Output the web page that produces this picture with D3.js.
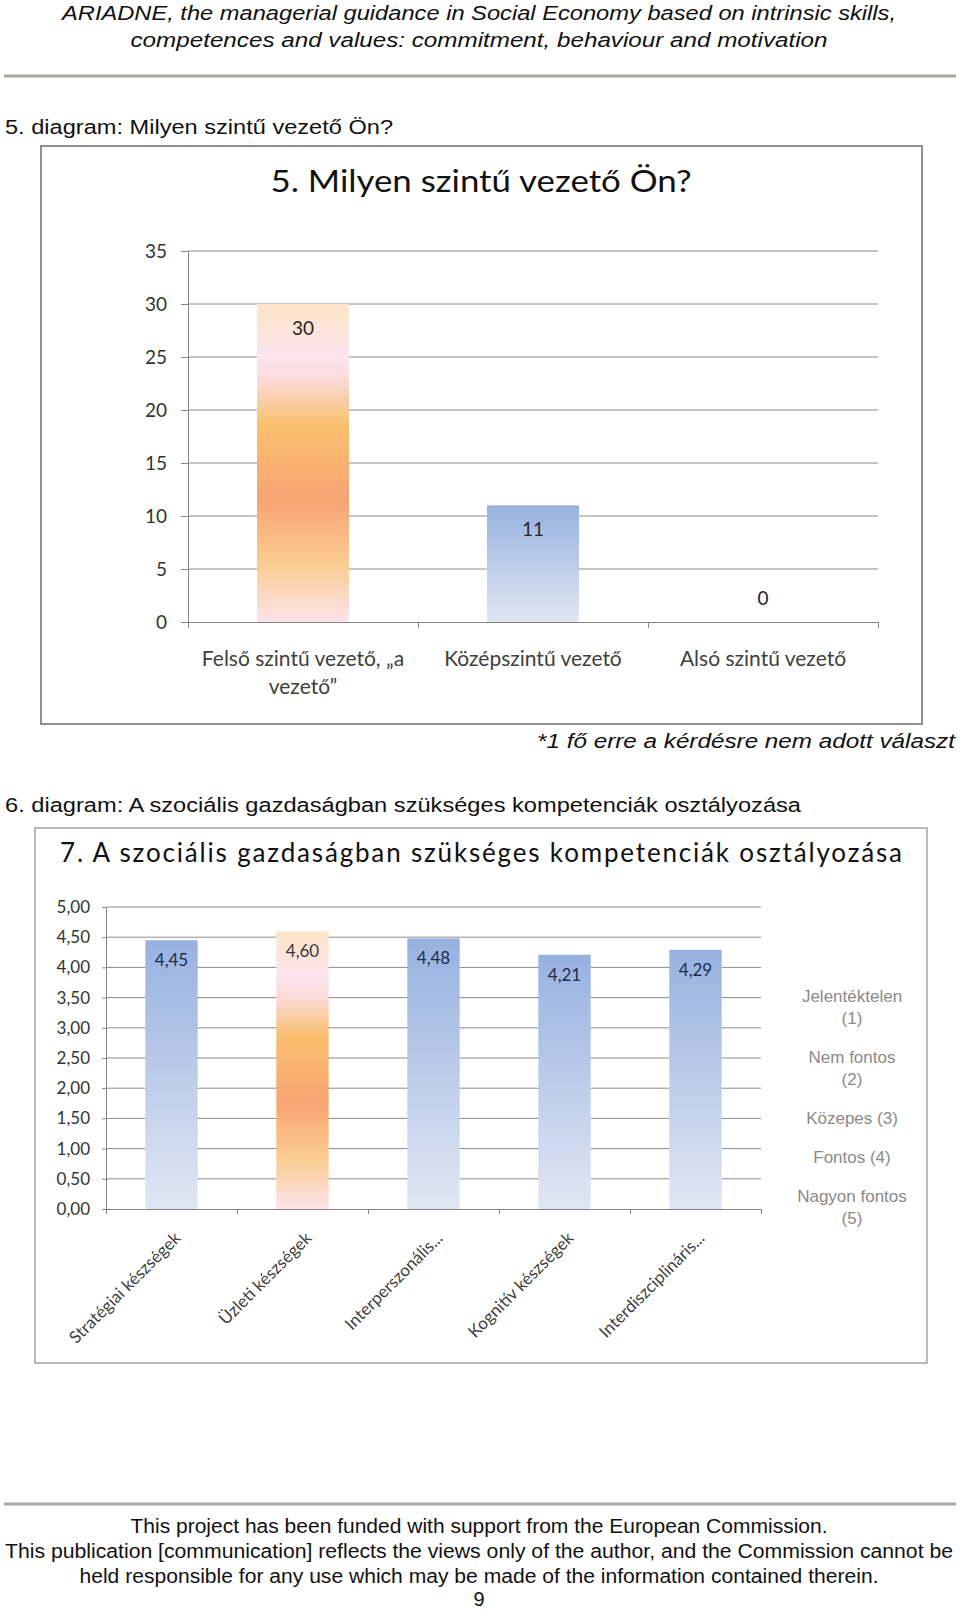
<!DOCTYPE html>
<meta charset="utf-8">
<script src="https://d3js.org/d3.v7.min.js"></script>
<style>
body { margin: 0; background: #fff; }
</style>
<div id="page"></div>
<script>

// diagram 5 data
var levels = ["Felső szintű vezető, „a vezető”", "Középszintű vezető", "Alsó szintű vezető"];
var levelCounts = [30, 11, 0];
var levelTicks = [0, 5, 10, 15, 20, 25, 30, 35];

// diagram 6 (chart 7) data
var skills = ["Stratégiai készségek", "Üzleti készségek", "Interperszonális...", "Kognitív készségek", "Interdiszciplináris..."];
var skillScores = [4.45, 4.60, 4.48, 4.21, 4.29];
var scoreTicks = [0, 0.5, 1, 1.5, 2, 2.5, 3, 3.5, 4, 4.5, 5];
var ratingLegend = ["Jelentéktelen (1)", "Nem fontos (2)", "Közepes (3)", "Fontos (4)", "Nagyon fontos (5)"];

// which bar gets the warm gradient
var warmLevel = levels[0];
var warmSkill = skills[1];

var svg = d3.select("#page")
  .append("svg")
    .attr("width", 960)
    .attr("height", 1612);

// gradients (Excel 2007 look)
var defs = svg.append("defs");
var blue = defs.append("linearGradient").attr("id", "blueGrad")
  .attr("x1", 0).attr("y1", 0).attr("x2", 0).attr("y2", 1);
blue.append("stop").attr("offset", "0%").attr("stop-color", "#97b1e0");
blue.append("stop").attr("offset", "100%").attr("stop-color", "#e0e7f3");

var warm = defs.append("linearGradient").attr("id", "warmGrad")
  .attr("x1", 0).attr("y1", 0).attr("x2", 0).attr("y2", 1);
[["0%", "#fde5c8"], ["17%", "#fce3ee"], ["23%", "#fbdcdc"], ["38%", "#f9bf6e"],
 ["62%", "#f8a474"], ["82%", "#fbcd92"], ["100%", "#fbe3ea"]].forEach(function(s) {
  warm.append("stop").attr("offset", s[0]).attr("stop-color", s[1]);
});

function barFill(name, warmName) {
  return name === warmName ? "url(#warmGrad)" : "url(#blueGrad)";
}

function docText(str, x, y, anchor, italic, len) {
  return svg.append("text")
    .attr("x", x).attr("y", y)
    .attr("text-anchor", anchor)
    .attr("textLength", len)
    .attr("lengthAdjust", "spacingAndGlyphs")
    .style("font-family", "'Liberation Sans', Arial, sans-serif")
    .style("font-size", "20px")
    .style("font-style", italic ? "italic" : "normal")
    .style("fill", "#111")
    .text(str);
}

// wrap text into tspans
function wrap(text, width, lineHeight) {
  text.each(function() {
    var t = d3.select(this),
        words = t.text().split(/\s+/),
        line = [],
        x = t.attr("x"),
        tspan = t.text(null).append("tspan").attr("x", x);
    words.forEach(function(w) {
      line.push(w);
      tspan.text(line.join(" "));
      if (tspan.node().getComputedTextLength() > width && line.length > 1) {
        line.pop();
        tspan.text(line.join(" "));
        line = [w];
        tspan = t.append("tspan").attr("x", x).attr("dy", lineHeight).text(w);
      }
    });
  });
}

// page header
docText("ARIADNE, the managerial guidance in Social Economy based on intrinsic skills,", 479, 20, "middle", true, 834);
docText("competences and values: commitment, behaviour and motivation", 479, 47, "middle", true, 697);
svg.append("line")
  .attr("x1", 4).attr("x2", 956).attr("y1", 76).attr("y2", 76)
  .style("stroke", "#a7a7a2").style("stroke-width", 3);

docText("5. diagram: Milyen szintű vezető Ön?", 5, 134, "start", false, 388);

// ---------------- chart 5 ----------------
svg.append("rect")
  .attr("x", 41).attr("y", 146).attr("width", 881).attr("height", 578)
  .style("fill", "#fff").style("stroke", "#8f8f8f").style("stroke-width", 2);

svg.append("text")
  .attr("x", 481).attr("y", 192)
  .attr("text-anchor", "middle")
  .attr("textLength", 421).attr("lengthAdjust", "spacingAndGlyphs")
  .style("font-family", "Lato, sans-serif")
  .style("font-size", "31px")
  .style("fill", "#111")
  .text("5. Milyen szintű vezető Ön?");

var y1 = d3.scaleLinear().domain([0, 35]).range([622, 251]);
var x1 = d3.scaleBand().domain(levels).range([188, 878]).paddingInner(0.6).paddingOuter(0.3);
var xi1 = d3.scaleLinear().domain([0, levels.length]).range([188, 878]);

// gridlines
svg.append("g")
  .selectAll("line")
  .data(levelTicks.filter(function(d) { return d > 0; }))
  .enter().append("line")
    .attr("x1", 188).attr("x2", 878)
    .attr("y1", function(d) { return y1(d); })
    .attr("y2", function(d) { return y1(d); })
    .style("stroke", "#8c8c8c").style("stroke-width", 1);

// bars
svg.append("g")
  .selectAll("rect")
  .data(levels)
  .enter().append("rect")
    .attr("x", function(d) { return x1(d); })
    .attr("y", function(d, i) { return y1(levelCounts[i]); })
    .attr("width", x1.bandwidth())
    .attr("height", function(d, i) { return y1(0) - y1(levelCounts[i]); })
    .attr("fill", function(d) { return barFill(d, warmLevel); });

// axes
var yAxis1 = svg.append("g")
  .attr("transform", "translate(188,0)")
  .call(d3.axisLeft(y1).tickValues(levelTicks).tickSize(7).tickSizeOuter(0).tickPadding(14));
var xAxis1 = svg.append("g")
  .attr("transform", "translate(0,622)")
  .call(d3.axisBottom(xi1).tickValues(d3.range(levels.length + 1)).tickSize(6).tickSizeOuter(0).tickFormat(""));
[yAxis1, xAxis1].forEach(function(a) {
  a.selectAll("path, line").style("stroke", "#868686");
  a.selectAll("text")
    .style("font-family", "Lato, sans-serif")
    .style("font-size", "19px")
    .style("fill", "#333");
});

// data labels
svg.append("g")
  .selectAll("text")
  .data(levels)
  .enter().append("text")
    .attr("x", function(d) { return x1(d) + x1.bandwidth() / 2; })
    .attr("y", function(d, i) {
      var v = levelCounts[i];
      return v > 0 ? y1(v) + 24 : y1(v) - 24;
    })
    .attr("dy", "0.35em")
    .attr("text-anchor", "middle")
    .style("font-family", "Lato, sans-serif")
    .style("font-size", "19px")
    .style("fill", "#262626")
    .text(function(d, i) { return levelCounts[i]; });

// category labels
svg.append("g")
  .selectAll("text")
  .data(levels)
  .enter().append("text")
    .attr("x", function(d) { return x1(d) + x1.bandwidth() / 2; })
    .attr("y", 666)
    .attr("text-anchor", "middle")
    .style("font-family", "Lato, sans-serif")
    .style("font-size", "21px")
    .style("fill", "#404040")
    .text(function(d) { return d; })
    .each(function() { wrap(d3.select(this), 222, 28); });

docText("*1 fő erre a kérdésre nem adott választ", 955, 748, "end", true, 418);

docText("6. diagram: A szociális gazdaságban szükséges kompetenciák osztályozása", 5, 812, "start", false, 796);

// ---------------- chart 7 ----------------
svg.append("rect")
  .attr("x", 35).attr("y", 828).attr("width", 892).attr("height", 535)
  .style("fill", "#fff").style("stroke", "#a3a3a3").style("stroke-width", 1.5);

svg.append("text")
  .attr("x", 60).attr("y", 862)
  .attr("textLength", 842).attr("lengthAdjust", "spacing")
  .style("font-family", "Lato, sans-serif")
  .style("font-size", "26px")
  .style("fill", "#111")
  .text("7. A szociális gazdaságban szükséges kompetenciák osztályozása");

var y2 = d3.scaleLinear().domain([0, 5]).range([1209, 907]);
var x2 = d3.scaleBand().domain(skills).range([106, 761]).paddingInner(0.6).paddingOuter(0.3);
var xi2 = d3.scaleLinear().domain([0, skills.length]).range([106, 761]);
var fmt = function(v) { return d3.format(".2f")(v).replace(".", ","); };

svg.append("g")
  .selectAll("line")
  .data(scoreTicks.filter(function(d) { return d > 0; }))
  .enter().append("line")
    .attr("x1", 106).attr("x2", 761)
    .attr("y1", function(d) { return y2(d); })
    .attr("y2", function(d) { return y2(d); })
    .style("stroke", "#8c8c8c").style("stroke-width", 1);

svg.append("g")
  .selectAll("rect")
  .data(skills)
  .enter().append("rect")
    .attr("x", function(d) { return x2(d); })
    .attr("y", function(d, i) { return y2(skillScores[i]); })
    .attr("width", x2.bandwidth())
    .attr("height", function(d, i) { return y2(0) - y2(skillScores[i]); })
    .attr("fill", function(d) { return barFill(d, warmSkill); });

var yAxis2 = svg.append("g")
  .attr("transform", "translate(106,0)")
  .call(d3.axisLeft(y2).tickValues(scoreTicks).tickFormat(fmt).tickSize(4).tickSizeOuter(0).tickPadding(12));
var xAxis2 = svg.append("g")
  .attr("transform", "translate(0,1209)")
  .call(d3.axisBottom(xi2).tickValues(d3.range(skills.length + 1)).tickSize(5).tickSizeOuter(0).tickFormat(""));
[yAxis2, xAxis2].forEach(function(a) {
  a.selectAll("path, line").style("stroke", "#868686");
  a.selectAll("text")
    .style("font-family", "Lato, sans-serif")
    .style("font-size", "17px")
    .style("fill", "#333");
});

svg.append("g")
  .selectAll("text")
  .data(skills)
  .enter().append("text")
    .attr("x", function(d) { return x2(d) + x2.bandwidth() / 2; })
    .attr("y", function(d, i) { return y2(skillScores[i]) + 20; })
    .attr("dy", "0.35em")
    .attr("text-anchor", "middle")
    .style("font-family", "Lato, sans-serif")
    .style("font-size", "17px")
    .style("fill", function(d) { return d === warmSkill ? "#3a3a3a" : "#1f2d4a"; })
    .text(function(d, i) { return fmt(skillScores[i]); });

// rotated category labels
svg.append("g")
  .selectAll("text")
  .data(skills)
  .enter().append("text")
    .attr("transform", function(d) {
      return "translate(" + (x2(d) + x2.bandwidth() / 2 + 6) + "," + 1235 + ") rotate(-45)";
    })
    .attr("dy", "0.35em")
    .attr("text-anchor", "end")
    .style("font-family", "Lato, sans-serif")
    .style("font-size", "17px")
    .style("fill", "#404040")
    .text(function(d) { return d; });

// legend (entries have no markers); the "(n)" drops to a new line when the entry is too wide
var legendY = 996;
ratingLegend.forEach(function(label) {
  var t = svg.append("text")
    .attr("x", 852).attr("y", legendY)
    .attr("dy", "0.35em")
    .attr("text-anchor", "middle")
    .style("font-family", "'Liberation Sans', Arial, sans-serif")
    .style("font-size", "17px")
    .style("fill", "#8a8a8a")
    .text(label);
  var lines = 1;
  if (t.node().getComputedTextLength() > 108) {
    var cut = label.lastIndexOf(" ");
    t.text(null);
    t.append("tspan").attr("x", 852).text(label.slice(0, cut));
    t.append("tspan").attr("x", 852).attr("dy", 22).text(label.slice(cut + 1));
    lines = 2;
  }
  legendY += (lines - 1) * 22 + 39;
});

// page footer
svg.append("line")
  .attr("x1", 4).attr("x2", 956).attr("y1", 1504).attr("y2", 1504)
  .style("stroke", "#a7a7a2").style("stroke-width", 3);
docText("This project has been funded with support from the European Commission.", 479, 1533, "middle", false, 697);
docText("This publication [communication] reflects the views only of the author, and the Commission cannot be", 479, 1558, "middle", false, 948);
docText("held responsible for any use which may be made of the information contained therein.", 479, 1583, "middle", false, 799);
svg.append("text")
  .attr("x", 479).attr("y", 1606)
  .attr("text-anchor", "middle")
  .style("font-family", "'Liberation Sans', Arial, sans-serif")
  .style("font-size", "20px")
  .style("fill", "#111")
  .text("9");

</script>
